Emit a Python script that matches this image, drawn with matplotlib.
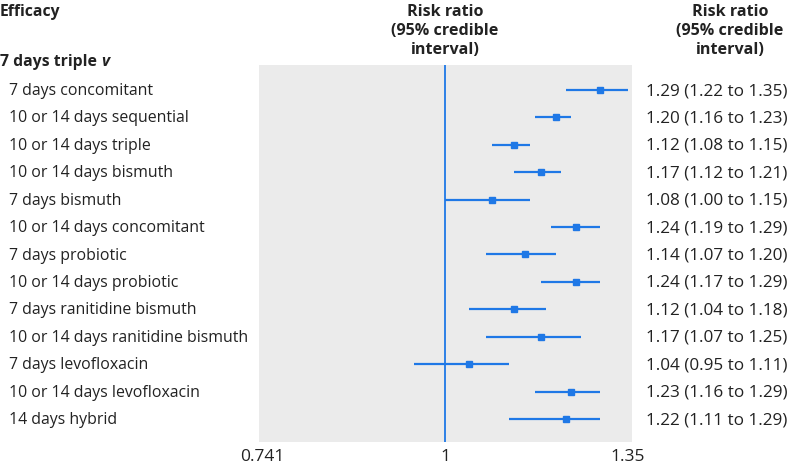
import matplotlib
matplotlib.use('Agg')
import matplotlib.pyplot as plt
from matplotlib.transforms import blended_transform_factory

plt.rcParams['font.family'] = ['Open Sans', 'DejaVu Sans']

# data
labels = ['7 days concomitant', '10 or 14 days sequential', '10 or 14 days triple',
          '10 or 14 days bismuth', '7 days bismuth', '10 or 14 days concomitant',
          '7 days probiotic', '10 or 14 days probiotic', '7 days ranitidine bismuth',
          '10 or 14 days ranitidine bismuth', '7 days levofloxacin',
          '10 or 14 days levofloxacin', '14 days hybrid']
rr = [1.29, 1.20, 1.12, 1.17, 1.08, 1.24, 1.14, 1.24, 1.12, 1.17, 1.04, 1.23, 1.22]
lo = [1.22, 1.16, 1.08, 1.12, 1.00, 1.19, 1.07, 1.17, 1.04, 1.07, 0.95, 1.16, 1.11]
hi = [1.35, 1.23, 1.15, 1.21, 1.15, 1.29, 1.20, 1.29, 1.18, 1.25, 1.11, 1.29, 1.29]
xticks = [0.741, 1, 1.35]
xticklabels = ['0.741', '1', '1.35']

blue = '#1f78e6'
W, H = 790, 465
fig = plt.figure(figsize=(W / 100, H / 100), dpi=100)
ax = fig.add_axes([259 / W, 1 - 442 / H, (632 - 259) / W, (442 - 65) / H])
ax.set_facecolor('#ebebeb')
ax.set_xscale('log')
ax.set_xlim(0.737, 1.359)
ax.set_ylim(len(labels) - 1 + 0.84, -0.91)

ax.axvline(1, color=blue, lw=1.3, zorder=1)
ys = list(range(len(labels)))
for y, r, l, h in zip(ys, rr, lo, hi):
    ax.plot([l, h], [y, y], color=blue, lw=1.6, zorder=2, solid_capstyle='butt')
    ax.plot(r, y, marker='s', ms=5, color=blue, zorder=3, mec=blue)

ax.set_xticks(xticks)
ax.set_xticklabels(xticklabels)
ax.xaxis.set_minor_locator(plt.NullLocator())
ax.set_yticks([])
ax.tick_params(axis='x', length=0, pad=5, labelsize=12.5, colors='#222222')
for s in ax.spines.values():
    s.set_visible(False)

tc = '#222222'
trl = blended_transform_factory(fig.transFigure, ax.transData)
for y, lab, r, l, h in zip(ys, labels, rr, lo, hi):
    ax.text(9 / W, y + 0.04, lab, transform=trl, ha='left', va='center',
            fontsize=11.4, color=tc)
    ax.text(646 / W, y + 0.04, f'{r:.2f} ({l:.2f} to {h:.2f})', transform=trl,
            ha='left', va='center', fontsize=12.3, color=tc)

fig.text(0, 1 - 12 / H, 'Efficacy', ha='left', va='center', fontsize=11.3,
         fontweight='bold', color=tc)
t = fig.text(0, 1 - 62 / H, '7 days triple ', ha='left', va='center', fontsize=11.3,
             fontweight='bold', color=tc)
fig.canvas.draw()
bb = t.get_window_extent()
fig.text(bb.x1 / W, 1 - 62 / H, 'v', ha='left', va='center', fontsize=11.3,
         fontweight='bold', fontstyle='italic', color=tc)

hdr = 'Risk ratio\n(95% credible\ninterval)'
for xc in (445, 730):
    fig.text(xc / W, 1 - 4 / H, hdr, ha='center', va='top', fontsize=11.6,
             fontweight='bold', color=tc, linespacing=1.25)

fig.savefig('out.png', dpi=100)
